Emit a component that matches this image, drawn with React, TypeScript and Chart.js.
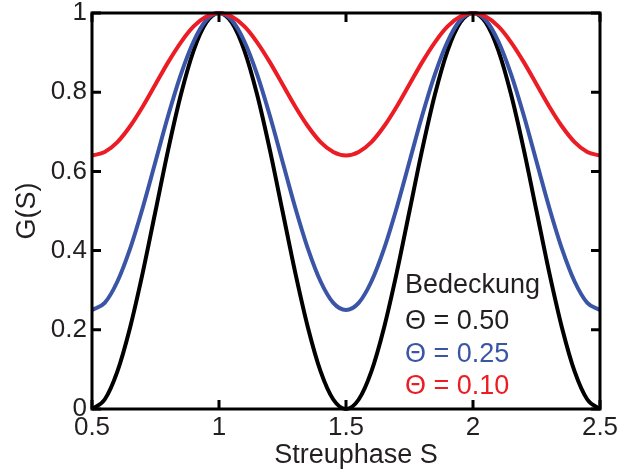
import React, { useEffect, useRef } from "react";
import { Chart, registerables } from "chart.js";

Chart.register(...registerables);

// Scattering phase S
const sPhase = [
  0.5, 0.55, 0.6, 0.65, 0.7, 0.75, 0.8, 0.85, 0.9, 0.95,
  1.0, 1.05, 1.1, 1.15, 1.2, 1.25, 1.3, 1.35, 1.4, 1.45,
  1.5, 1.55, 1.6, 1.65, 1.7, 1.75, 1.8, 1.85, 1.9, 1.95,
  2.0, 2.05, 2.1, 2.15, 2.2, 2.25, 2.3, 2.35, 2.4, 2.45, 2.5,
];

// G(S) for coverage Θ = 0.50
const g050 = [
  0, 0.024, 0.095, 0.206, 0.345, 0.5, 0.655, 0.794, 0.905, 0.976,
  1, 0.976, 0.905, 0.794, 0.655, 0.5, 0.345, 0.206, 0.095, 0.024,
  0, 0.024, 0.095, 0.206, 0.345, 0.5, 0.655, 0.794, 0.905, 0.976,
  1, 0.976, 0.905, 0.794, 0.655, 0.5, 0.345, 0.206, 0.095, 0.024, 0,
];

// G(S) for coverage Θ = 0.25
const g025 = [
  0.25, 0.268, 0.322, 0.405, 0.509, 0.625, 0.741, 0.845, 0.928, 0.982,
  1, 0.982, 0.928, 0.845, 0.741, 0.625, 0.509, 0.405, 0.322, 0.268,
  0.25, 0.268, 0.322, 0.405, 0.509, 0.625, 0.741, 0.845, 0.928, 0.982,
  1, 0.982, 0.928, 0.845, 0.741, 0.625, 0.509, 0.405, 0.322, 0.268, 0.25,
];

// G(S) for coverage Θ = 0.10
const g010 = [
  0.64, 0.649, 0.674, 0.714, 0.764, 0.82, 0.876, 0.926, 0.966, 0.991,
  1, 0.991, 0.966, 0.926, 0.876, 0.82, 0.764, 0.714, 0.674, 0.649,
  0.64, 0.649, 0.674, 0.714, 0.764, 0.82, 0.876, 0.926, 0.966, 0.991,
  1, 0.991, 0.966, 0.926, 0.876, 0.82, 0.764, 0.714, 0.674, 0.649, 0.64,
];

const legendTitle = "Bedeckung";
const seriesLabels = ["Θ = 0.50", "Θ = 0.25", "Θ = 0.10"];
const seriesColors = ["#000000", "#3a55a5", "#ec1c24"];
const xTitle = "Streuphase S";
const yTitle = "G(S)";

const FONT = '"Liberation Sans", Arial, Helvetica, sans-serif';

const toPoints = (ys: number[]) => sPhase.map((x, i) => ({ x, y: ys[i] }));
const fmt = (v: number | string) => String(Number(Number(v).toFixed(2)));

// Box frame with inward ticks on all four sides, axis titles, text legend
const framePlugin = {
  id: "frame",
  afterDatasetsDraw(chart: any) {
    const { ctx, chartArea } = chart;
    const { left, right, top, bottom } = chartArea;
    const xs = chart.scales.x;
    const ys = chart.scales.y;
    const tl = 9;
    ctx.save();
    ctx.strokeStyle = "#000";
    ctx.lineWidth = 3;
    ctx.lineCap = "butt";
    ctx.beginPath();
    xs.ticks.forEach((t: any) => {
      const px = xs.getPixelForValue(t.value);
      ctx.moveTo(px, bottom);
      ctx.lineTo(px, bottom - tl);
      ctx.moveTo(px, top);
      ctx.lineTo(px, top + tl);
    });
    ys.ticks.forEach((t: any) => {
      const py = ys.getPixelForValue(t.value);
      ctx.moveTo(left, py);
      ctx.lineTo(left + tl, py);
      ctx.moveTo(right, py);
      ctx.lineTo(right - tl, py);
    });
    ctx.stroke();
    ctx.lineJoin = "miter";
    ctx.strokeRect(left, top, right - left, bottom - top);

    // axis titles
    ctx.fillStyle = "#231f20";
    ctx.font = `27px ${FONT}`;
    ctx.textAlign = "center";
    ctx.textBaseline = "alphabetic";
    ctx.fillText(xTitle, (left + right) / 2 + 10, 463);
    ctx.translate(35, (top + bottom) / 2);
    ctx.rotate(-Math.PI / 2);
    ctx.fillText(yTitle, 0, 0);
    ctx.restore();

    // legend text
    ctx.save();
    ctx.font = `27px ${FONT}`;
    ctx.textAlign = "left";
    ctx.textBaseline = "alphabetic";
    const lx = 405;
    ctx.fillStyle = "#231f20";
    ctx.fillText(legendTitle, lx, 293);
    const rows = [329, 362, 394];
    seriesLabels.forEach((lab, i) => {
      ctx.fillStyle = seriesColors[i] === "#000000" ? "#231f20" : seriesColors[i];
      ctx.fillText(lab, lx, rows[i]);
    });
    ctx.restore();
  },
};

export default function App() {
  const ref = useRef<HTMLCanvasElement | null>(null);

  useEffect(() => {
    if (!ref.current) return;
    const series = [g050, g025, g010];
    const chart = new Chart(ref.current, {
      type: "line",
      data: {
        datasets: series.map((ys, i) => ({
          label: seriesLabels[i],
          data: toPoints(ys),
          borderColor: seriesColors[i],
          backgroundColor: seriesColors[i],
          borderWidth: 4,
          pointRadius: 0,
          cubicInterpolationMode: "monotone" as const,
          clip: false as any,
          order: 2 - i,
        })),
      },
      options: {
        responsive: false,
        animation: false,
        layout: {
          autoPadding: false,
          padding: { left: 0, top: 13, right: 23, bottom: 0 },
        },
        plugins: {
          legend: { display: false },
          tooltip: { enabled: false },
        },
        scales: {
          x: {
            type: "linear",
            min: 0.5,
            max: 2.5,
            ticks: {
              stepSize: 0.5,
              color: "#231f20",
              font: { family: FONT, size: 26 },
              padding: 3,
              maxRotation: 0,
              callback: (v: any) => fmt(v),
            },
            grid: { display: false, drawTicks: false },
            border: { display: false },
            afterFit: (s: any) => {
              s.height = 65;
              s.paddingLeft = 0;
              s.paddingRight = 0;
            },
          },
          y: {
            type: "linear",
            min: 0,
            max: 1,
            ticks: {
              stepSize: 0.2,
              color: "#231f20",
              font: { family: FONT, size: 26 },
              padding: 5,
              callback: (v: any) => fmt(v),
            },
            grid: { display: false, drawTicks: false },
            border: { display: false },
            afterFit: (s: any) => {
              s.width = 92;
              s.paddingTop = 0;
              s.paddingBottom = 0;
            },
          },
        },
      },
      plugins: [framePlugin],
    });
    return () => chart.destroy();
  }, []);

  return (
    <div style={{ position: "absolute", left: 0, top: 0, width: 623, height: 474, background: "#fff" }}>
      <canvas ref={ref} width={623} height={474} />
    </div>
  );
}
